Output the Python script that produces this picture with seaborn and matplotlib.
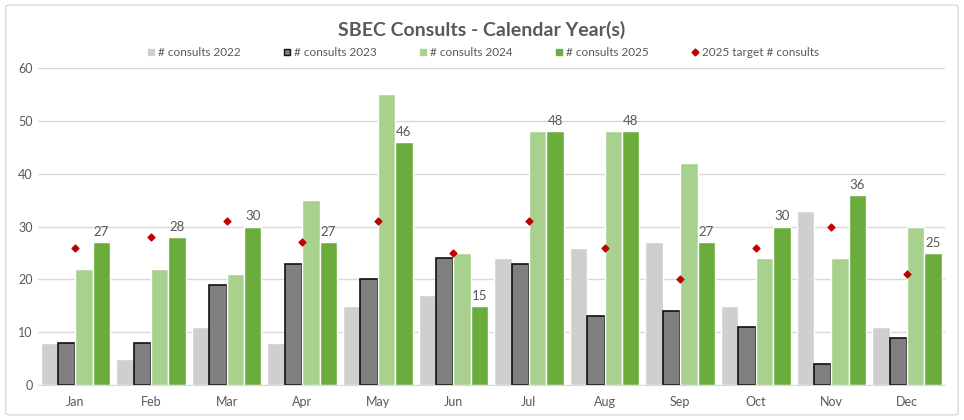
import pandas as pd
import matplotlib.pyplot as plt
import seaborn as sns
from matplotlib.patches import FancyBboxPatch
from matplotlib.lines import Line2D

months = ["Jan", "Feb", "Mar", "Apr", "May", "Jun", "Jul", "Aug", "Sep", "Oct", "Nov", "Dec"]
consults_2022 = [8, 5, 11, 8, 15, 17, 24, 26, 27, 15, 33, 11]
consults_2023 = [8, 8, 19, 23, 20, 24, 23, 13, 14, 11, 4, 9]
consults_2024 = [22, 22, 21, 35, 55, 25, 48, 48, 42, 24, 24, 30]
consults_2025 = [27, 28, 30, 27, 46, 15, 48, 48, 27, 30, 36, 25]
target_2025 = [26, 28, 31, 27, 31, 25, 31, 26, 20, 26, 30, 21]

series_names = ["# consults 2022", "# consults 2023", "# consults 2024", "# consults 2025"]
colors = ["#d0cece", "#7f7f7f", "#a9d18e", "#6aad3d"]

rows = []
for name, vals in zip(series_names, [consults_2022, consults_2023, consults_2024, consults_2025]):
    for m, v in zip(months, vals):
        rows.append({"month": m, "series": name, "value": v})
df = pd.DataFrame(rows)

sns.set_style("white")
plt.rcParams["font.family"] = ["Lato", "DejaVu Sans"]
text_color = "#595959"

fig = plt.figure(figsize=(9.64, 4.2), dpi=100)
ax = fig.add_axes([0.039, 0.083, 0.941, 0.755])

sns.barplot(data=df, x="month", y="value", hue="series", hue_order=series_names,
            order=months, palette=colors, width=0.92, gap=0, errorbar=None,
            saturation=1, ax=ax, legend=False)

# dark edge on 2023 bars
for bar in ax.containers[1]:
    bar.set_edgecolor("#111111")
    bar.set_linewidth(1.2)

ax.bar_label(ax.containers[3], labels=[str(v) for v in consults_2025],
             padding=3, fontsize=9.5, color=text_color)

# target markers
ax.scatter(range(len(months)), target_2025, marker="D", s=12, color="#c00000", zorder=5)

ax.set_ylim(0, 60)
ax.set_xlim(-0.5, len(months) - 0.5)
ax.set_yticks(range(0, 61, 10))
ax.yaxis.grid(True, color="#d9d9d9", linewidth=1)
ax.set_axisbelow(True)
for s in ["top", "right", "left"]:
    ax.spines[s].set_visible(False)
ax.spines["bottom"].set_color("#d9d9d9")
ax.tick_params(axis="both", length=0, labelsize=9, labelcolor=text_color)
ax.tick_params(axis="x", pad=8)
ax.set_xlabel("")
ax.set_ylabel("")

fig.text(0.5, 0.929, "SBEC Consults - Calendar Year(s)", ha="center", va="center",
         fontsize=14, fontweight="bold", color=text_color)

handles = [Line2D([], [], marker="s", linestyle="", markersize=5, markerfacecolor=c,
                  markeredgecolor=("#111111" if i == 1 else c))
           for i, c in enumerate(colors)]
handles.append(Line2D([], [], marker="D", linestyle="", markersize=3.5, color="#c00000"))
fig.legend(handles, series_names + ["2025 target # consults"], loc="center",
           bbox_to_anchor=(0.5, 0.874), ncol=5, frameon=False, fontsize=8.5,
           labelcolor=text_color, handletextpad=0.1, handlelength=1.0, columnspacing=3.4)

fig.patches.append(FancyBboxPatch((0.006, 0.012), 0.988, 0.976, boxstyle="round,pad=0,rounding_size=0.005",
                                  transform=fig.transFigure, fill=False, edgecolor="#d9d9d9", linewidth=1))

fig.savefig("out.png", dpi=100)
